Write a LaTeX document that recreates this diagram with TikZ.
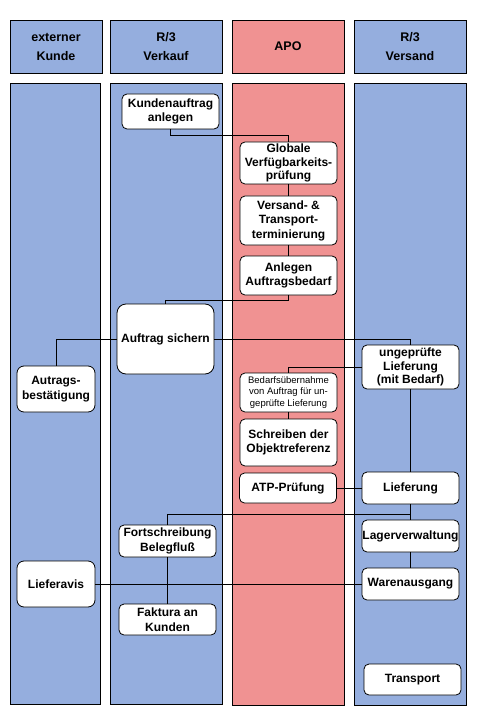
\documentclass[tikz,border=0pt]{standalone}
\usepackage{fontspec}
\setmainfont{Liberation Sans}
\definecolor{laneblue}{RGB}{149,174,222}
\definecolor{lanered}{RGB}{240,146,146}
\begin{document}
\begin{tikzpicture}[x=1pt,y=-1pt,line width=.8pt]
\tikzstyle{every node}=[inner sep=0pt, align=center]
\tikzstyle{head}=[draw, minimum height=53pt, font=\bfseries\fontsize{12.5}{19}\selectfont]
\tikzstyle{task}=[draw, fill=white, rounded corners=5pt, minimum width=97pt, font=\bfseries\fontsize{12}{14.5}\selectfont]
\useasboundingbox (0,0) rectangle (479,719);
\fill[white] (0,0) rectangle (479,719);
\draw[fill=laneblue] (10,83) rectangle (100,704);
\draw[fill=laneblue] (110,83) rectangle (222,704);
\draw[fill=lanered] (232,83) rectangle (344,705);
\draw[fill=laneblue] (354,83) rectangle (466,705);
\draw (56,46.5) node (h1) [head, fill=laneblue, minimum width=92pt] {externer\\Kunde};
\draw (166,46.5) node (h2) [head, fill=laneblue, minimum width=112pt] {R/3\\Verkauf};
\draw (288,46.5) node (h3) [head, fill=lanered, minimum width=112pt] {APO};
\draw (410,46.5) node (h4) [head, fill=laneblue, minimum width=112pt] {R/3\\Versand};
\draw (170.5,111.5) node (ka) [task, minimum height=35pt] {Kundenauftrag\\anlegen};
\draw (288.5,163) node (gv) [task, minimum height=42pt, font=\bfseries\fontsize{12}{13.5}\selectfont] {Globale\\Verfügbarkeits-\\prüfung};
\draw (288.5,220.5) node (vt) [task, minimum height=49pt] {Versand- \&\\Transport-\\terminierung};
\draw (288.5,275.5) node (ab) [task, minimum height=39pt] {Anlegen\\Auftragsbedarf};
\draw (165.5,339) node (as) [task, minimum height=70pt, rounded corners=9pt] {Auftrag sichern};
\draw (56,389) node (bt) [task, minimum width=78pt, minimum height=46pt, rounded corners=7pt] {Autrags-\\bestätigung};
\draw (410.5,367) node (ul) [task, minimum height=44pt, font=\bfseries\fontsize{12}{13.5}\selectfont] {ungeprüfte\\Lieferung\\(mit Bedarf)};
\draw (288.5,392.5) node (bu) [task, minimum height=39pt, font=\fontsize{9.5}{11.5}\selectfont] {Bedarfsübernahme\\von Auftrag für un-\\geprüfte Lieferung};
\draw (288.5,442.5) node (or) [task, minimum height=47pt] {Schreiben der\\Objektreferenz};
\draw (288,488) node (atp) [task, minimum height=30pt] {ATP-Prüfung};
\draw (410.5,488) node (lf) [task, minimum height=32pt] {Lieferung};
\draw (167.5,541) node (fb) [task, minimum height=32pt] {Fortschreibung\\Belegfluß};
\draw (410.5,536) node (lv) [task, minimum height=32pt] {Lagerverwaltung};
\draw (56,584) node (la) [task, minimum width=78pt, minimum height=46pt, rounded corners=7pt] {Lieferavis};
\draw (410.5,584) node (wa) [task, minimum height=32pt] {Warenausgang};
\draw (167.5,619.5) node (fk) [task, minimum height=31pt] {Faktura an\\Kunden};
\draw (412.5,679.5) node (tr) [task, minimum height=31pt] {Transport};
\draw (ka.south) -- ++(0,6) -| (gv.north);
\draw (gv) -- (vt);
\draw (vt) -- (ab);
\draw (ab.south) -- ++(0,5) -| (as.north);
\draw (as.west) -| (bt.north);
\draw (as.east) -| (ul.north);
\draw (ul.west) -| (bu.north);
\draw (bu) -- (or);
\draw (ul) -- (lf);
\draw (atp) -- (lf);
\draw (lf.south) -- ++(0,10) -| (fb.north);
\draw (lf) -- (lv);
\draw (lv) -- (wa);
\draw (la) -- (wa);
\draw (fb) -- (fk);
\end{tikzpicture}
\end{document}
